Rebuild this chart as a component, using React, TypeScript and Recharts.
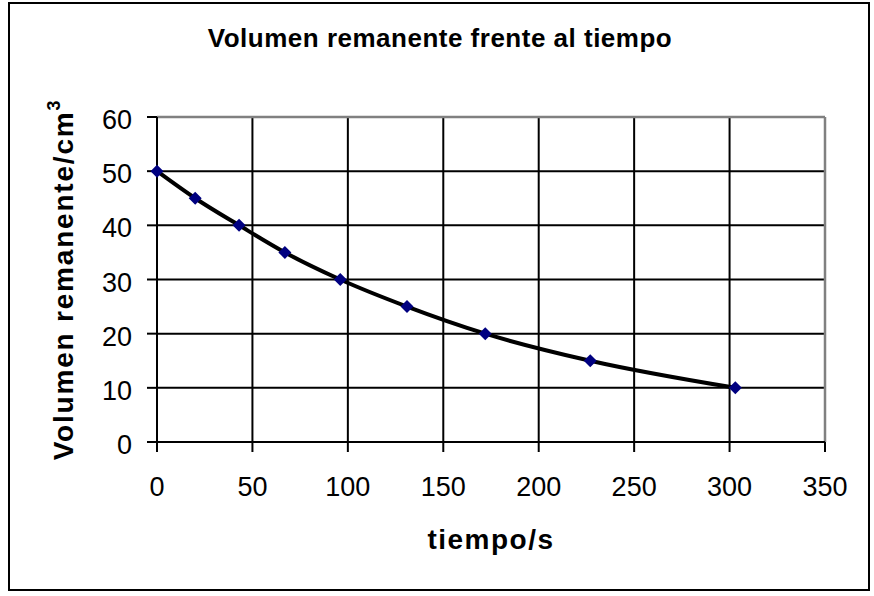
import React from 'react';
import { ComposedChart, Line, XAxis, YAxis, CartesianGrid, ReferenceLine } from 'recharts';

// values
const times = [0, 20, 43, 67, 96, 131, 172, 227, 303];
const volumes = [50, 45, 40, 35, 30, 25, 20, 15, 10];
const xTicks = [0, 50, 100, 150, 200, 250, 300, 350];
const yTicks = [0, 10, 20, 30, 40, 50, 60];

const data = times.map((t, i) => ({ t, v: volumes[i] }));

const FONT = '"Liberation Sans", Arial, sans-serif';

const Diamond = (props: any) => {
  const { cx, cy, index } = props;
  if (cx == null || cy == null) return null;
  const r = 6.5;
  return (
    <path
      key={`d-${index}`}
      d={`M${cx} ${cy - r} L${cx + r} ${cy} L${cx} ${cy + r} L${cx - r} ${cy} Z`}
      fill="#000080"
    />
  );
};

const XLabel = (props: any) => {
  const vb = props.viewBox || { x: 0, y: 0, width: 0, height: 0 };
  return (
    <text
      x={vb.x + vb.width / 2}
      y={vb.y + 107}
      textAnchor="middle"
      fontFamily={FONT}
      fontWeight="bold"
      fontSize={28}
      letterSpacing={1.5}
      fill="#000"
    >
      tiempo/s
    </text>
  );
};

const YLabel = (props: any) => {
  const vb = props.viewBox || { x: 0, y: 0, width: 0, height: 0 };
  const x = vb.x - 24;
  const y = vb.y + vb.height / 2;
  return (
    <text
      x={x}
      y={y}
      transform={`rotate(-90, ${x}, ${y})`}
      textAnchor="middle"
      fontFamily={FONT}
      fontWeight="bold"
      fontSize={28}
      letterSpacing={1.8}
      fill="#000"
    >
      Volumen remanente/cm
      <tspan fontSize={18} dy={-13}>3</tspan>
    </text>
  );
};

// y tick labels sit a little below their tick in the reference
const YTick = (props: any) => {
  const { x, y, payload } = props;
  return (
    <text x={x} y={y + 12} textAnchor="end" fontFamily={FONT} fontSize={27} fill="#000">
      {payload.value}
    </text>
  );
};

export default function App() {
  const tickStyle = { fontFamily: FONT, fontSize: 27, fill: '#000' };
  return (
    <div style={{ position: 'absolute', left: 0, top: 0, width: 874, height: 596, background: '#fff' }}>
      <ComposedChart
        width={874}
        height={596}
        data={data}
        margin={{ top: 117, right: 49, bottom: 124, left: 97 }}
      >
        <CartesianGrid stroke="#000" strokeWidth={2} />
        <XAxis
          dataKey="t"
          type="number"
          domain={[0, 350]}
          ticks={xTicks}
          interval={0}
          height={30}
          tickSize={10}
          tickMargin={25}
          axisLine={{ stroke: '#000', strokeWidth: 2 }}
          tickLine={{ stroke: '#000', strokeWidth: 2 }}
          tick={tickStyle}
          label={<XLabel />}
        />
        <YAxis
          type="number"
          domain={[0, 60]}
          ticks={yTicks}
          interval={0}
          width={60}
          tickSize={10}
          tickMargin={15}
          axisLine={{ stroke: '#000', strokeWidth: 2 }}
          tickLine={{ stroke: '#000', strokeWidth: 2 }}
          tick={<YTick />}
          label={<YLabel />}
        />
        <ReferenceLine y={60} stroke="#808080" strokeWidth={2.5} />
        <ReferenceLine x={350} stroke="#808080" strokeWidth={2.5} />
        <Line
          dataKey="v"
          stroke="none"
          dot={<Diamond />}
          activeDot={false}
          isAnimationActive={false}
        />
        <Line
          dataKey="v"
          type="monotone"
          stroke="#000"
          strokeWidth={4}
          dot={false}
          activeDot={false}
          isAnimationActive={false}
        />
      </ComposedChart>
      <svg
        width={874}
        height={596}
        style={{ position: 'absolute', left: 0, top: 0, pointerEvents: 'none' }}
      >
        <rect x={9} y={3} width={860} height={587} fill="none" stroke="#000" strokeWidth={2} />
        <text
          x={440}
          y={47}
          textAnchor="middle"
          fontFamily={FONT}
          fontWeight="bold"
          fontSize={26}
          letterSpacing={0.5}
          fill="#000"
        >
          Volumen remanente frente al tiempo
        </text>
      </svg>
    </div>
  );
}
